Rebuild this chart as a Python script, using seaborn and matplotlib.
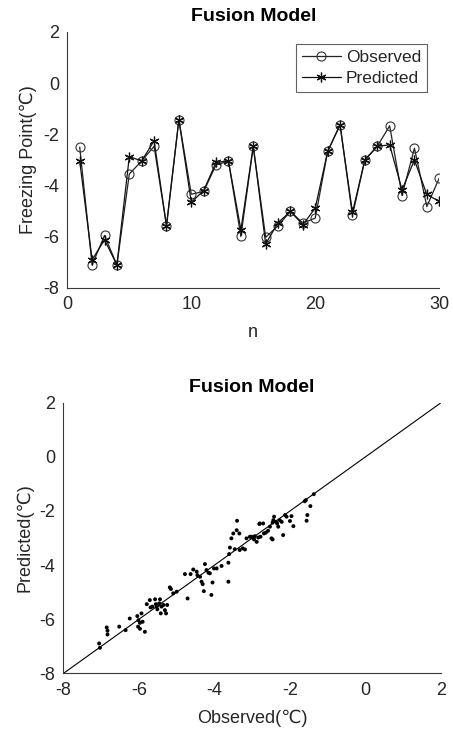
import numpy as np
import pandas as pd
import matplotlib
matplotlib.use("Agg")
import matplotlib.pyplot as plt
import seaborn as sns

# ---- data ----
n = list(range(1, 31))
observed = [-2.50, -7.10, -5.95, -7.10, -3.55, -3.04, -2.47, -5.57, -1.43, -4.34,
            -4.23, -3.19, -3.05, -5.99, -2.47, -6.02, -5.57, -5.01, -5.47, -5.27,
            -2.67, -1.63, -5.17, -3.00, -2.47, -1.67, -4.39, -2.54, -4.82, -3.71]
predicted = [-3.04, -6.90, -6.12, -7.10, -2.87, -3.04, -2.25, -5.57, -1.43, -4.65,
             -4.20, -3.09, -3.05, -5.73, -2.47, -6.28, -5.45, -5.01, -5.53, -4.88,
             -2.67, -1.63, -5.05, -3.00, -2.47, -2.41, -4.17, -3.00, -4.35, -4.62]

scatter_obs = [-7.05, -7.03, -6.85, -6.83, -6.83, -6.52, -6.35, -6.24, -6.04, -6.01,
               -5.97, -5.93, -5.90, -6.02, -5.97, -5.84, -5.79, -5.71, -5.69, -5.64,
               -5.57, -5.55, -5.53, -5.51, -5.49, -5.46, -5.44, -5.42, -5.40, -5.35,
               -5.31, -5.28, -5.25, -5.18, -5.15, -5.09, -5.00, -4.78, -4.71, -4.63,
               -4.56, -4.47, -4.45, -4.38, -4.34, -4.31, -4.28, -4.25, -4.21, -4.16,
               -4.12, -4.08, -4.05, -4.01, -3.94, -3.81, -3.63, -3.63, -3.61, -3.59,
               -3.55, -3.50, -3.46, -3.41, -3.40, -3.34, -3.33, -3.25, -3.15, -3.02,
               -2.97, -2.93, -2.88, -2.81, -3.19, -3.06, -2.99, -2.95, -2.84, -2.80,
               -2.78, -2.71, -2.69, -2.64, -2.58, -2.53, -2.49, -2.46, -2.46, -2.44,
               -2.42, -2.37, -2.34, -2.31, -2.27, -2.22, -2.18, -2.13, -2.09, -2.00,
               -1.96, -1.91, -1.61, -1.58, -1.56, -1.54, -1.46, -1.37]
scatter_pred = [-6.89, -7.05, -6.30, -6.42, -6.56, -6.27, -6.40, -5.97, -5.88, -6.03,
                -6.13, -5.78, -6.09, -6.27, -6.35, -6.46, -5.44, -5.29, -5.56, -5.53,
                -5.26, -5.44, -5.53, -5.63, -5.47, -5.41, -5.26, -5.78, -5.53, -5.47,
                -5.66, -5.78, -5.47, -4.82, -4.88, -5.04, -4.98, -4.33, -5.23, -4.33,
                -4.16, -4.24, -4.37, -4.43, -4.61, -4.70, -4.96, -3.96, -4.18, -4.28,
                -4.30, -5.10, -4.64, -4.12, -4.12, -4.03, -3.91, -4.61, -3.59, -3.35,
                -3.01, -2.83, -3.41, -2.71, -2.36, -2.83, -3.44, -3.38, -3.01, -2.95,
                -2.98, -2.93, -3.14, -2.48, -3.42, -2.95, -2.98, -3.05, -2.98, -2.46,
                -2.95, -2.46, -2.83, -2.80, -2.73, -2.58, -3.01, -3.05, -2.43, -2.34,
                -2.21, -2.40, -2.46, -2.58, -2.34, -2.40, -2.89, -2.15, -2.21, -2.37,
                -2.19, -2.56, -1.64, -1.60, -2.36, -2.15, -1.82, -1.38]

ticks = [-8, -6, -4, -2, 0, 2]
xticks_top = [0, 10, 20, 30]

sns.set_theme(style="white")
plt.rcParams['font.family'] = ['Liberation Sans', 'DejaVu Sans']
plt.rcParams['axes.unicode_minus'] = False

axc = '#3a3a3a'
fig = plt.figure(figsize=(4.53, 7.38), dpi=100)

# ---- top panel ----
ax1 = fig.add_axes([0.1486, 0.6098, 0.821, 0.347])
df = pd.DataFrame({'n': n, 'Observed': observed, 'Predicted': predicted})
sns.lineplot(data=df, x='n', y='Observed', ax=ax1, color='#222222', lw=0.9,
             marker='o', markersize=6.5, markerfacecolor='none',
             markeredgecolor='#333333', markeredgewidth=0.8, label='Observed')
sns.lineplot(data=df, x='n', y='Predicted', ax=ax1, color='#111111', lw=0.9,
             marker=(6, 2, 0), markersize=7, markerfacecolor='#111111',
             markeredgecolor='#111111', markeredgewidth=0.9, label='Predicted')
ax1.set_xlim(0, 30)
ax1.set_ylim(-8, 2)
ax1.set_xticks(xticks_top)
ax1.set_yticks(ticks)
ax1.set_xlabel('n', fontsize=13, color='#262626', labelpad=8)
ax1.set_ylabel('Freezing Point(℃)', fontsize=13, color='#262626', labelpad=4)
ax1.set_title('Fusion Model', fontsize=14, fontweight='bold', color='black', pad=8)
leg = ax1.legend(loc='upper right', fontsize=12.5, frameon=True, fancybox=False,
                 edgecolor=axc, handlelength=2.2, borderpad=0.35, labelspacing=0.3,
                 handletextpad=0.3, borderaxespad=0.7)
leg.get_frame().set_linewidth(0.8)

# ---- bottom panel ----
ax2 = fig.add_axes([0.1397, 0.0874, 0.834, 0.367])
sns.scatterplot(x=scatter_obs, y=scatter_pred, ax=ax2, color='black', s=8,
                edgecolor='none', linewidth=0)
ax2.plot([ticks[0], ticks[-1]], [ticks[0], ticks[-1]], color='black', lw=0.8)
ax2.set_xlim(-8, 2)
ax2.set_ylim(-8, 2)
ax2.set_xticks(ticks)
ax2.set_yticks(ticks)
ax2.set_xlabel('Observed(℃)', fontsize=13, color='#262626', labelpad=8)
ax2.set_ylabel('Predicted(℃)', fontsize=13, color='#262626', labelpad=4)
ax2.set_title('Fusion Model', fontsize=14, fontweight='bold', color='black', pad=8)

for ax in (ax1, ax2):
    for s in ('top', 'right'):
        ax.spines[s].set_visible(False)
    for s in ('left', 'bottom'):
        ax.spines[s].set_color(axc)
        ax.spines[s].set_linewidth(0.8)
    ax.tick_params(direction='in', length=3.5, width=0.8, colors=axc,
                   labelsize=13, labelcolor='#262626', pad=6)

fig.savefig('out.png', dpi=100)
